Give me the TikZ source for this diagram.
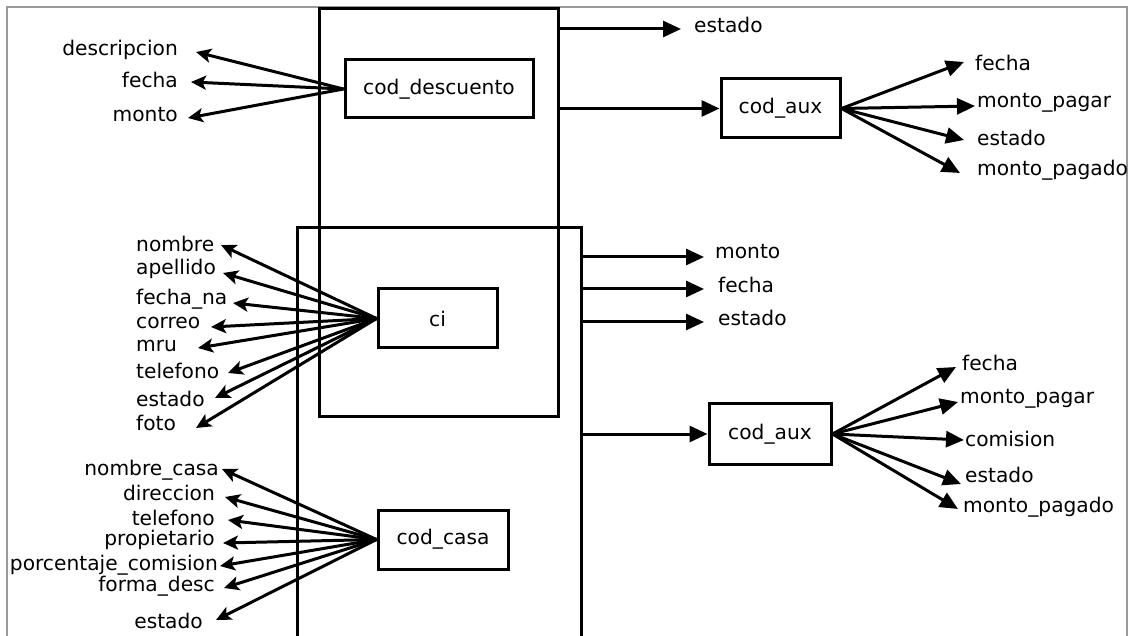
\documentclass[tikz,border=0pt]{standalone}
\usepackage{fontspec}
\setmainfont{DejaVu Sans}
\usetikzlibrary{arrows.meta}
\begin{document}
\begin{tikzpicture}[x=1pt,y=-1pt,
  box/.style={draw, line width=3pt, inner sep=0pt, font=\fontsize{20.2}{23}\selectfont},
  cont/.style={draw, line width=3pt, inner sep=0pt},
  lbl/.style={inner sep=0pt, font=\fontsize{20.2}{23}\selectfont},
  arrR/.style={line width=3pt, -{Triangle[length=18pt,width=16pt]}},
  arrL/.style={line width=3pt, -{Stealth[length=15pt,width=14pt,inset=3.5pt]}}]
\useasboundingbox (0,0) rectangle (1136,636);
\fill[white] (0,0) rectangle (1136,636);
% frame
\draw[line width=2.5pt, gray!80] (7,660) -- (7,7) -- (1127,7) -- (1127,660);
% containers
\node[cont, minimum width=239pt, minimum height=408pt] (up) at (438.5,212.5) {};
\node[cont, minimum width=284pt, minimum height=440pt] (low) at (439,448) {};
% entity boxes
\node[box, minimum width=188pt, minimum height=58pt] (desc) at (439,89) {cod\_descuento};
\node[box, minimum width=119pt, minimum height=59pt] (ci) at (437.5,318.5) {ci};
\node[box, minimum width=130pt, minimum height=59pt] (casa) at (443,539.5) {cod\_casa};
\node[box, minimum width=119pt, minimum height=59pt] (auxA) at (780.5,108.5) {cod\_aux};
\node[box, minimum width=122pt, minimum height=60pt] (auxB) at (770,434) {cod\_aux};

% ---- top-left fan (cod_descuento)
\node[lbl, anchor=east] (d1) at (178,50) {descripcion};
\node[lbl, anchor=east] (d2) at (178,80) {fecha};
\node[lbl, anchor=east] (d3) at (178,115) {monto};
\coordinate (td1) at (196,52);
\coordinate (td2) at (191,82);
\coordinate (td3) at (188,118);
\foreach \t in {td1,td2,td3} \draw[arrL] (desc.west) -- (\t);

% ---- top-right
\node[lbl, anchor=west] (e0) at (694,25) {estado};
\coordinate (te0) at (681,29);
\draw[arrR] (up.east |- te0) -- (te0);
\draw[arrR] (up.east |- auxA.west) -- (auxA.west);

\node[lbl, anchor=west] (a1) at (975,63) {fecha};
\node[lbl, anchor=west] (a2) at (977,103) {monto\_pagar};
\node[lbl, anchor=west] (a3) at (977,138) {estado};
\node[lbl, anchor=west] (a4) at (977,170) {monto\_pagado};
\coordinate (ta1) at (964,62);
\coordinate (ta2) at (975,106);
\coordinate (ta3) at (964,140);
\coordinate (ta4) at (960,173);
\foreach \t in {ta1,ta2,ta3,ta4} \draw[arrR] (auxA.east) -- (\t);

% ---- ci fan
\node[lbl, anchor=west] (c1) at (136,244) {nombre};
\node[lbl, anchor=west] (c2) at (136,269) {apellido};
\node[lbl, anchor=west] (c3) at (136,299) {fecha\_na};
\node[lbl, anchor=west] (c4) at (136,323) {correo};
\node[lbl, anchor=west] (c5) at (136,346) {mru};
\node[lbl, anchor=west] (c6) at (136,371) {telefono};
\node[lbl, anchor=west] (c7) at (136,399) {estado};
\node[lbl, anchor=west] (c8) at (136,423) {foto};
\coordinate (tc1) at (221,245);
\coordinate (tc2) at (223,273);
\coordinate (tc3) at (233,303);
\coordinate (tc4) at (211,327);
\coordinate (tc5) at (198,348);
\coordinate (tc6) at (228,373);
\coordinate (tc7) at (215,398);
\coordinate (tc8) at (196,428);
\foreach \t in {tc1,tc2,tc3,tc4,tc5,tc6,tc7,tc8} \draw[arrL] (ci.west) -- (\t);

% ---- lower right arrows
\node[lbl, anchor=west] (m1) at (715,252) {monto};
\node[lbl, anchor=west] (m2) at (718,285) {fecha};
\node[lbl, anchor=west] (m3) at (718,318) {estado};
\coordinate (tm1) at (704,257);
\coordinate (tm2) at (704,289);
\coordinate (tm3) at (704,322);
\foreach \t in {tm1,tm2,tm3} \draw[arrR] (low.east |- \t) -- (\t);
\draw[arrR] (low.east |- auxB.west) -- (auxB.west);

\node[lbl, anchor=west] (b1) at (962,363) {fecha};
\node[lbl, anchor=west] (b2) at (960,399) {monto\_pagar};
\node[lbl, anchor=west] (b3) at (965,439) {comision};
\node[lbl, anchor=west] (b4) at (965,475) {estado};
\node[lbl, anchor=west] (b5) at (963,507) {monto\_pagado};
\coordinate (tb1) at (956,367);
\coordinate (tb2) at (958,402);
\coordinate (tb3) at (964,440);
\coordinate (tb4) at (961,484);
\coordinate (tb5) at (958,509);
\foreach \t in {tb1,tb2,tb3,tb4,tb5} \draw[arrR] (auxB.east) -- (\t);

% ---- cod_casa fan
\node[lbl, anchor=east] (h1) at (219,470) {nombre\_casa};
\node[lbl, anchor=east] (h2) at (215,493) {direccion};
\node[lbl, anchor=east] (h3) at (215,518) {telefono};
\node[lbl, anchor=east] (h4) at (215,540) {propietario};
\node[lbl, anchor=east] (h5) at (218,565) {porcentaje\_comision};
\node[lbl, anchor=east] (h6) at (215,586) {forma\_desc};
\node[lbl, anchor=east] (h7) at (203,621) {estado};
\coordinate (th1) at (222,469);
\coordinate (th2) at (225,497);
\coordinate (th3) at (228,520);
\coordinate (th4) at (223,543);
\coordinate (th5) at (220,566);
\coordinate (th6) at (224,588);
\coordinate (th7) at (216,620);
\foreach \t in {th1,th2,th3,th4,th5,th6,th7} \draw[arrL] (casa.west) -- (\t);
\end{tikzpicture}
\end{document}
